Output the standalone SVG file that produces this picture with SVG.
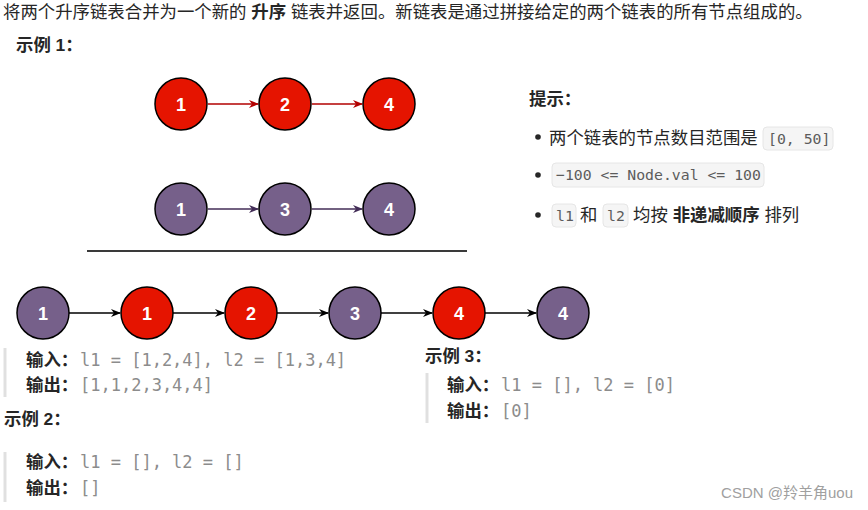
<svg xmlns="http://www.w3.org/2000/svg" width="868" height="510" viewBox="0 0 868 510">
<defs>
<style>
.t{font-family:"Liberation Sans","Noto Sans CJK SC",sans-serif;font-size:17.4px;fill:#262626}
.b{font-weight:bold}
.m{font-family:"DejaVu Sans Mono","Liberation Mono",monospace;font-size:17px;fill:#8c8c8c}
.hm{font-family:"DejaVu Sans Mono","Liberation Mono",monospace;font-size:14.8px;fill:#5c5c5c}
.nl{font-family:"Liberation Sans",Arial,sans-serif;font-size:18px;font-weight:bold;fill:#fff;text-anchor:middle}
.red{fill:#e51400;stroke:#000;stroke-width:1.5}
.pur{fill:#76608a;stroke:#000;stroke-width:1.5}
.box{fill:#f5f5f5;stroke:#e6e6e6;stroke-width:1}
.bar{stroke:#e0e0e0;stroke-width:3}
</style>
<marker id="ar" viewBox="0 0 10 10" refX="9" refY="5" markerWidth="10" markerHeight="10" orient="auto" markerUnits="userSpaceOnUse"><path d="M0,1 L10,5 L0,9 L3,5 z" fill="#b20000"/></marker>
<marker id="ap" viewBox="0 0 10 10" refX="9" refY="5" markerWidth="10" markerHeight="10" orient="auto" markerUnits="userSpaceOnUse"><path d="M0,1 L10,5 L0,9 L3,5 z" fill="#432d57"/></marker>
<marker id="ab" viewBox="0 0 10 10" refX="9" refY="5" markerWidth="10" markerHeight="10" orient="auto" markerUnits="userSpaceOnUse"><path d="M0,1 L10,5 L0,9 L3,5 z" fill="#000"/></marker>
</defs>
<rect width="868" height="510" fill="#fff"/>

<text class="t" x="3" y="18">将两个升序链表合并为一个新的 <tspan class="b">升序</tspan> 链表并返回。新链表是通过拼接给定的两个链表的所有节点组成的。</text>
<text class="t b" x="16" y="51">示例 1：</text>

<g id="connectors">
<line x1="208" y1="104" x2="258" y2="104" stroke="#b20000" stroke-width="1.5" marker-end="url(#ar)"/>
<line x1="312" y1="104" x2="362" y2="104" stroke="#b20000" stroke-width="1.5" marker-end="url(#ar)"/>
<line x1="208" y1="209" x2="258" y2="209" stroke="#432d57" stroke-width="1.5" marker-end="url(#ap)"/>
<line x1="312" y1="209" x2="362" y2="209" stroke="#432d57" stroke-width="1.5" marker-end="url(#ap)"/>
<line x1="69" y1="313" x2="120" y2="313" stroke="#000" stroke-width="1.5" marker-end="url(#ab)"/>
<line x1="173" y1="313" x2="224" y2="313" stroke="#000" stroke-width="1.5" marker-end="url(#ab)"/>
<line x1="277" y1="313" x2="328" y2="313" stroke="#000" stroke-width="1.5" marker-end="url(#ab)"/>
<line x1="381" y1="313" x2="432" y2="313" stroke="#000" stroke-width="1.5" marker-end="url(#ab)"/>
<line x1="485" y1="313" x2="536" y2="313" stroke="#000" stroke-width="1.5" marker-end="url(#ab)"/>
</g>

<g id="l1-1"><circle class="red" cx="181" cy="104" r="26"/><text class="nl" x="181" y="110.5">1</text></g>
<g id="l1-2"><circle class="red" cx="285" cy="104" r="26"/><text class="nl" x="285" y="110.5">2</text></g>
<g id="l1-4"><circle class="red" cx="389" cy="104" r="26"/><text class="nl" x="389" y="110.5">4</text></g>
<g id="l2-1"><circle class="pur" cx="181" cy="209" r="26"/><text class="nl" x="181" y="215.5">1</text></g>
<g id="l2-3"><circle class="pur" cx="285" cy="209" r="26"/><text class="nl" x="285" y="215.5">3</text></g>
<g id="l2-4"><circle class="pur" cx="389" cy="209" r="26"/><text class="nl" x="389" y="215.5">4</text></g>

<line x1="87" y1="251" x2="467" y2="251" stroke="#3a3a3a" stroke-width="2"/>

<g id="m-1"><circle class="pur" cx="43" cy="313" r="26"/><text class="nl" x="43" y="319.5">1</text></g>
<g id="m-2"><circle class="red" cx="147" cy="313" r="26"/><text class="nl" x="147" y="319.5">1</text></g>
<g id="m-3"><circle class="red" cx="251" cy="313" r="26"/><text class="nl" x="251" y="319.5">2</text></g>
<g id="m-4"><circle class="pur" cx="355" cy="313" r="26"/><text class="nl" x="355" y="319.5">3</text></g>
<g id="m-5"><circle class="red" cx="459" cy="313" r="26"/><text class="nl" x="459" y="319.5">4</text></g>
<g id="m-6"><circle class="pur" cx="563" cy="313" r="26"/><text class="nl" x="563" y="319.5">4</text></g>

<g id="hints">
<text class="t b" x="529" y="105">提示：</text>
<circle cx="538" cy="137" r="2.8" fill="#262626"/>
<text class="t" x="549" y="144">两个链表的节点数目范围是</text>
<rect class="box" x="763" y="127" width="70" height="23" rx="4"/>
<text class="hm" x="768" y="144">[0, 50]</text>
<circle cx="538" cy="175" r="2.8" fill="#262626"/>
<rect class="box" x="552" y="163" width="212" height="24" rx="4"/>
<text class="hm" x="556" y="180">−100 &lt;= Node.val &lt;= 100</text>
<circle cx="538" cy="215" r="2.8" fill="#262626"/>
<rect class="box" x="552" y="204" width="24" height="23" rx="4"/>
<text class="hm" x="556" y="221">l1</text>
<text class="t" x="580" y="221">和</text>
<rect class="box" x="603" y="204" width="25" height="23" rx="4"/>
<text class="hm" x="607" y="221">l2</text>
<text class="t" x="633" y="221">均按 <tspan class="b">非递减顺序</tspan> 排列</text>
</g>

<g id="ex1">
<line class="bar" x1="5" y1="348" x2="5" y2="397"/>
<text class="t b" x="26" y="366">输入：</text><text class="m" x="80" y="366">l1 = [1,2,4], l2 = [1,3,4]</text>
<text class="t b" x="26" y="391">输出：</text><text class="m" x="80" y="391">[1,1,2,3,4,4]</text>
</g>
<g id="ex2">
<text class="t b" x="4" y="425">示例 2：</text>
<line class="bar" x1="5" y1="452" x2="5" y2="502"/>
<text class="t b" x="26" y="468">输入：</text><text class="m" x="80" y="468">l1 = [], l2 = []</text>
<text class="t b" x="26" y="494">输出：</text><text class="m" x="80" y="494">[]</text>
</g>
<g id="ex3">
<text class="t b" x="425" y="362">示例 3：</text>
<line class="bar" x1="427" y1="373" x2="427" y2="423"/>
<text class="t b" x="447" y="391">输入：</text><text class="m" x="501" y="391">l1 = [], l2 = [0]</text>
<text class="t b" x="447" y="417">输出：</text><text class="m" x="501" y="417">[0]</text>
</g>

<text x="853" y="498" text-anchor="end" style="font-family:'Liberation Sans','Noto Sans CJK SC',sans-serif;font-size:15px;fill:#a0a0a0">CSDN @羚羊角uou</text>
</svg>
